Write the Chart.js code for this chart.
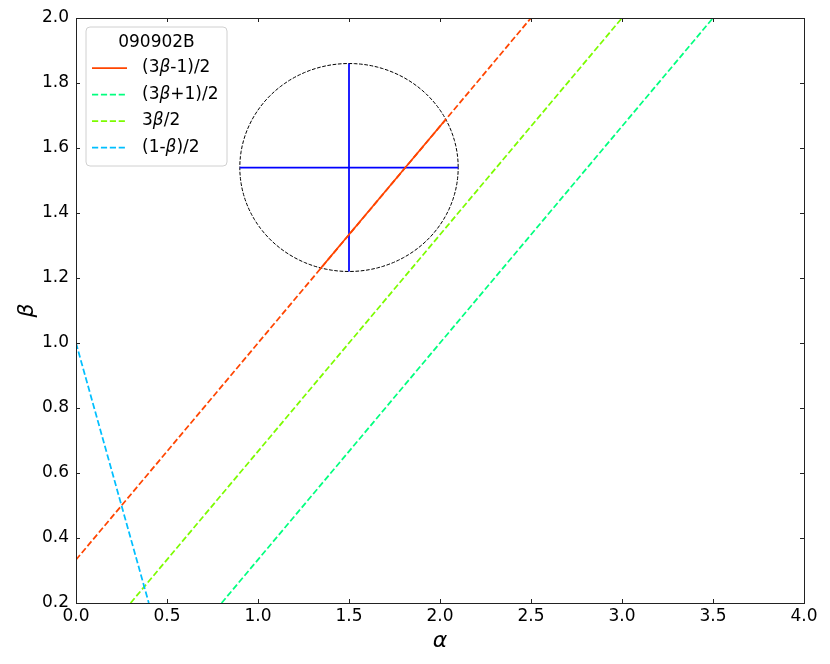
<!DOCTYPE html>
<html>
<head>
<meta charset="utf-8">
<script src="https://cdn.jsdelivr.net/npm/chart.js@4.4.1/dist/chart.umd.min.js"></script>
<style>
html,body{margin:0;padding:0;background:#fff;}
#wrap{width:830px;height:664px;}
</style>
</head>
<body>
<div id="wrap"><canvas id="c" width="830" height="664"></canvas></div>
<script>
// ---- data ----
const legendTitle = '090902B';
const seriesLabels = ['(3β-1)/2', '(3β+1)/2', '3β/2', '(1-β)/2'];
const seriesColors = ['#ff4500', '#00ff7f', '#7cfc00', '#00bfff'];
// line endpoints [alpha, beta]
const redLineX = [0.0, 2.5];      const redLineY = [0.333, 2.0];
const redSolidX = [1.34, 2.03];   const redSolidY = [1.227, 1.687];
const springX = [0.8, 3.5];       const springY = [0.2, 2.0];
const lawnX = [0.3, 3.0];         const lawnY = [0.2, 2.0];
const skyX = [0.0, 0.4];          const skyY = [1.0, 0.2];
// measured point with error bars
const pointX = [1.5];  const pointY = [1.54];
const errX = [0.6];    const errY = [0.32];
const xTicks = [0.0, 0.5, 1.0, 1.5, 2.0, 2.5, 3.0, 3.5, 4.0];
const yTicks = [0.2, 0.4, 0.6, 0.8, 1.0, 1.2, 1.4, 1.6, 1.8, 2.0];

const pts = (xs, ys) => xs.map((x, i) => ({x: x, y: ys[i]}));

// ellipse outline from centre and radii
const ellipsePts = [];
for (let k = 0; k <= 120; k++) {
  const t = 2 * Math.PI * k / 120;
  ellipsePts.push({x: pointX[0] + errX[0] * Math.cos(t), y: pointY[0] + errY[0] * Math.sin(t)});
}

const LW = 1.75;
const dashMain = [6.2, 2.7];
const base = {showLine: true, pointRadius: 0, pointHoverRadius: 0, fill: false, tension: 0};

const datasets = [
  Object.assign({}, base, {label: 'redDash', data: pts(redLineX, redLineY), borderColor: seriesColors[0], borderWidth: LW, borderDash: dashMain, order: 5}),
  Object.assign({}, base, {label: 'spring', data: pts(springX, springY), borderColor: seriesColors[1], borderWidth: LW, borderDash: dashMain, order: 4}),
  Object.assign({}, base, {label: 'lawn', data: pts(lawnX, lawnY), borderColor: seriesColors[2], borderWidth: LW, borderDash: dashMain, order: 3}),
  Object.assign({}, base, {label: 'sky', data: pts(skyX, skyY), borderColor: seriesColors[3], borderWidth: LW, borderDash: dashMain, order: 2}),
  Object.assign({}, base, {label: 'ellipse', data: ellipsePts, borderColor: '#000', borderWidth: 1, borderDash: [3.7, 1.6], order: 6}),
  Object.assign({}, base, {label: 'errH', data: [{x: pointX[0] - errX[0], y: pointY[0]}, {x: pointX[0] + errX[0], y: pointY[0]}], borderColor: '#0000ff', borderWidth: LW, order: 1.5}),
  Object.assign({}, base, {label: 'errV', data: [{x: pointX[0], y: pointY[0] - errY[0]}, {x: pointX[0], y: pointY[0] + errY[0]}], borderColor: '#0000ff', borderWidth: LW, order: 1.4}),
  Object.assign({}, base, {label: 'redSolid', data: pts(redSolidX, redSolidY), borderColor: seriesColors[0], borderWidth: LW, order: 1})
];

const FONT = "'DejaVu Sans', sans-serif";

function drawMixed(ctx, text, x, y, size) {
  // draws text with β in italic
  let cx = x;
  const parts = text.split(/(β)/);
  for (const p of parts) {
    if (!p) continue;
    ctx.font = (p === 'β' ? 'oblique ' : '') + size + 'px ' + FONT;
    ctx.fillText(p, cx, y);
    cx += ctx.measureText(p).width;
  }
}

const framePlugin = {
  id: 'frame',
  afterDatasetsDraw(chart) {
    const ctx = chart.ctx, a = chart.chartArea;
    const xs = chart.scales.x, ys = chart.scales.y;
    ctx.save();
    ctx.strokeStyle = '#222';
    ctx.lineWidth = 1;
    ctx.setLineDash([]);
    ctx.strokeRect(Math.round(a.left) + 0.5, Math.round(a.top) + 0.5, Math.round(a.right - a.left), Math.round(a.bottom - a.top));
    const L = 4;
    ctx.beginPath();
    for (const v of xTicks) {
      const px = Math.round(xs.getPixelForValue(v)) + 0.5;
      ctx.moveTo(px, a.bottom); ctx.lineTo(px, a.bottom - L);
      ctx.moveTo(px, a.top); ctx.lineTo(px, a.top + L);
    }
    for (const v of yTicks) {
      const py = Math.round(ys.getPixelForValue(v)) + 0.5;
      ctx.moveTo(a.left, py); ctx.lineTo(a.left + L, py);
      ctx.moveTo(a.right, py); ctx.lineTo(a.right - L, py);
    }
    ctx.stroke();

    // legend
    const bx = 86, by = 27, bw = 141, bh = 139, r = 4;
    ctx.beginPath();
    ctx.moveTo(bx + r, by);
    ctx.arcTo(bx + bw, by, bx + bw, by + bh, r);
    ctx.arcTo(bx + bw, by + bh, bx, by + bh, r);
    ctx.arcTo(bx, by + bh, bx, by, r);
    ctx.arcTo(bx, by, bx + bw, by, r);
    ctx.closePath();
    ctx.fillStyle = 'rgba(255,255,255,0.8)';
    ctx.fill();
    ctx.strokeStyle = '#d0d0d0';
    ctx.stroke();

    ctx.fillStyle = '#000';
    ctx.textBaseline = 'middle';
    ctx.textAlign = 'center';
    ctx.font = '17px ' + FONT;
    ctx.fillText(legendTitle, bx + bw / 2, 43);
    ctx.textAlign = 'left';
    const rowY = [68, 94.5, 121, 147.5];
    for (let i = 0; i < seriesLabels.length; i++) {
      ctx.strokeStyle = seriesColors[i];
      ctx.lineWidth = LW;
      ctx.setLineDash(i === 0 ? [] : dashMain);
      ctx.beginPath();
      ctx.moveTo(92, rowY[i]); ctx.lineTo(127, rowY[i]);
      ctx.stroke();
      ctx.setLineDash([]);
      ctx.fillStyle = '#000';
      drawMixed(ctx, seriesLabels[i], 142, rowY[i], 17);
    }
    ctx.restore();
  }
};

new Chart(document.getElementById('c'), {
  type: 'scatter',
  data: {datasets: datasets},
  options: {
    responsive: false,
    animation: false,
    devicePixelRatio: 1,
    layout: {padding: {left: 0, top: 18, right: 26, bottom: 0}},
    plugins: {legend: {display: false}, tooltip: {enabled: false}},
    scales: {
      x: {
        type: 'linear', min: 0, max: 4,
        afterBuildTicks: s => { s.ticks = xTicks.map(v => ({value: v})); },
        afterFit: s => { s.height = 61; },
        grid: {display: false, drawTicks: false},
        border: {display: false},
        ticks: {color: '#000', padding: 3, maxRotation: 0, autoSkip: false, font: {family: FONT, size: 17}, callback: v => Number(v).toFixed(1)},
        title: {display: true, text: 'α', color: '#000', font: {family: FONT, size: 22, style: 'italic'}, padding: {top: 0, bottom: 10}}
      },
      y: {
        type: 'linear', min: 0.2, max: 2.0,
        afterBuildTicks: s => { s.ticks = yTicks.map(v => ({value: v})); },
        afterFit: s => { s.width = 76; },
        grid: {display: false, drawTicks: false},
        border: {display: false},
        ticks: {color: '#000', padding: 7, autoSkip: false, font: {family: FONT, size: 17}, callback: v => Number(v).toFixed(1)},
        title: {display: true, text: 'β', color: '#000', font: {family: FONT, size: 22, style: 'italic'}, padding: {top: 14, bottom: 0}}
      }
    }
  },
  plugins: [framePlugin]
});
</script>
</body>
</html>
